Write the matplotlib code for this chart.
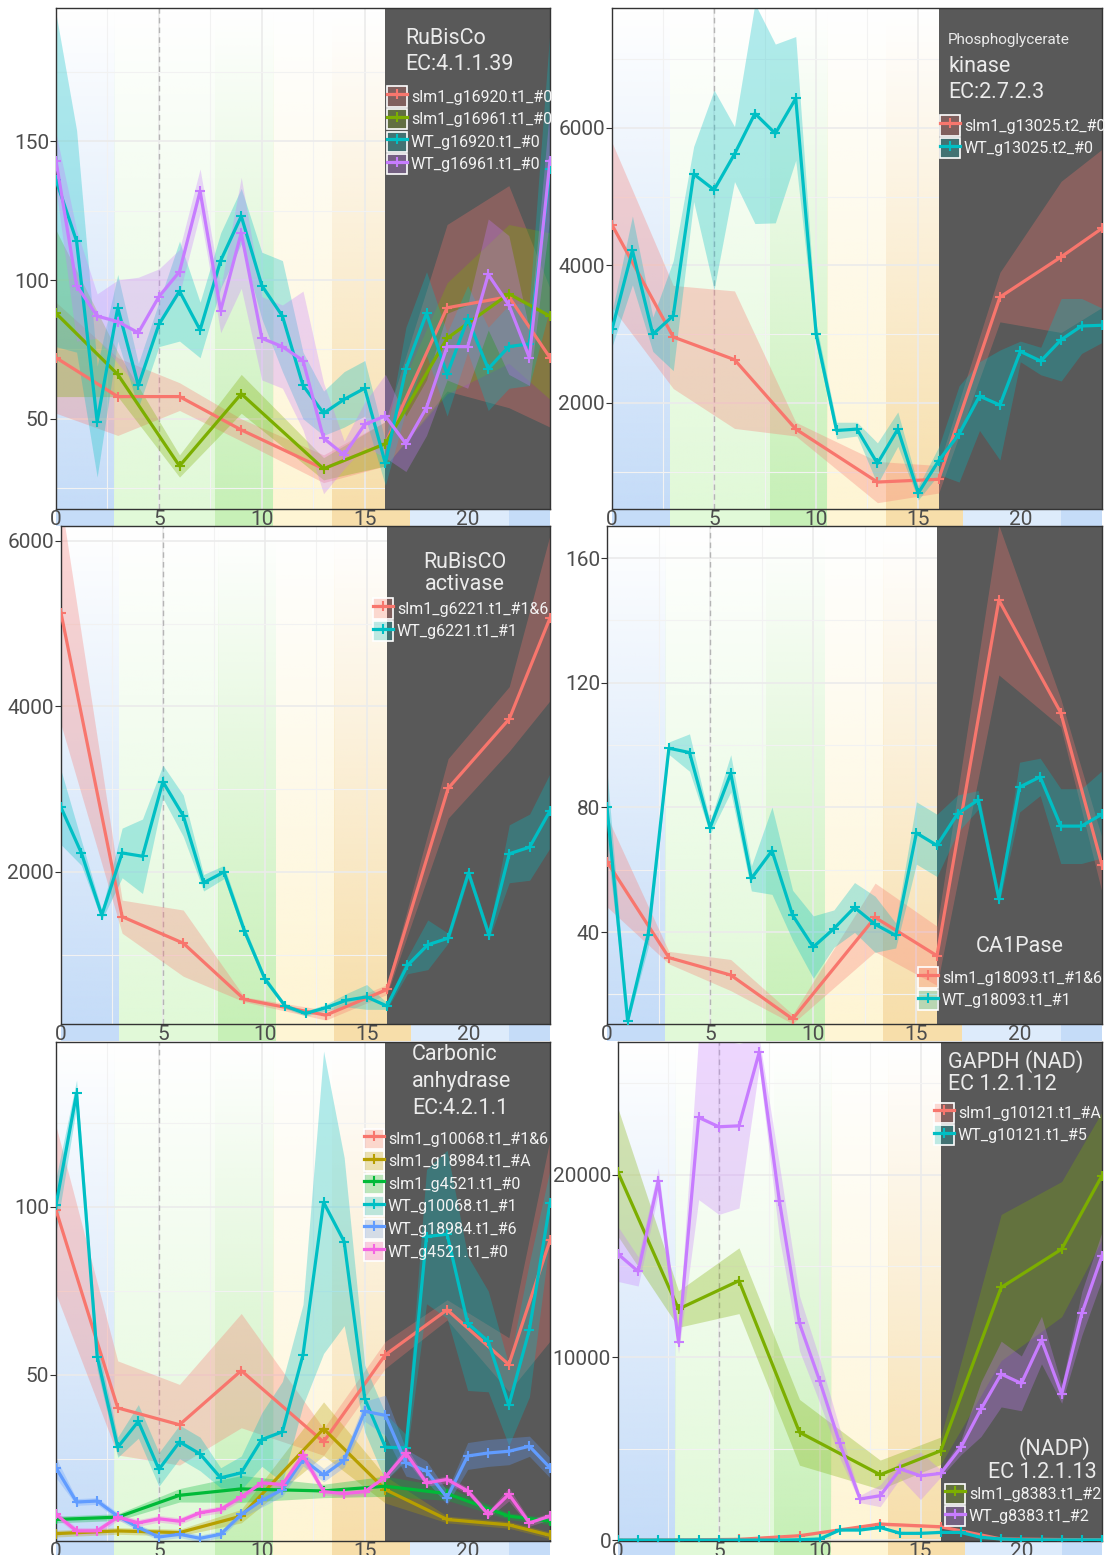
import numpy as np
import matplotlib.pyplot as plt
from matplotlib.patches import Patch
from matplotlib.lines import Line2D
from matplotlib.colors import to_rgb

plt.rcParams['font.family'] = ['Roboto', 'DejaVu Sans']

W, H = 1106, 1555

# sampling times
t_slm = [0, 3, 6, 9, 13, 16, 19, 22, 24]
t_wt = [0, 1, 2, 3, 4, 5, 6, 7, 8, 9, 10, 11, 12, 13, 14, 15, 16, 17, 18, 19, 20, 21, 22, 23, 24]

# ---- panel 1: RuBisCo
p1_slm_g16920 = [72, 58, 58, 46, 32, 41, 90, 94, 72]
p1_slm_g16920_sd = [20, 14, 5, 4, 5, 8, 30, 40, 25]
p1_slm_g16961 = [88, 66, 33, 59, 32, 41, 79, 95, 87]
p1_slm_g16961_sd = [30, 8, 4, 7, 4, 8, 20, 25, 30]
p1_wt_g16920 = [136, 114, 49, 90, 62, 84, 96, 82, 107, 123, 98, 87, 62, 52, 57, 61, 34, 68, 88, 66, 86, 68, 76, 77, 140]
p1_wt_g16920_sd = [60, 40, 20, 12, 8, 8, 18, 10, 10, 10, 12, 20, 12, 8, 10, 10, 8, 15, 15, 15, 12, 15, 15, 15, 50]
p1_wt_g16961 = [143, 98, 87, 85, 81, 94, 103, 132, 89, 117, 79, 76, 71, 43, 37, 48, 51, 41, 54, 76, 76, 102, 91, 72, 143]
p1_wt_g16961_sd = [10, 20, 8, 15, 20, 10, 8, 8, 8, 20, 15, 15, 25, 20, 5, 8, 15, 10, 10, 12, 15, 20, 25, 10, 20]

# ---- panel 2: Phosphoglycerate kinase
p2_slm = [4590, 2960, 2630, 1620, 850, 890, 3540, 4125, 4540]
p2_slm_sd = [1200, 750, 1000, 100, 300, 200, 360, 1100, 1150]
p2_wt = [3070, 4220, 3000, 3270, 5330, 5100, 5620, 6210, 5920, 6430, 3000, 1600, 1620, 1120, 1620, 690, 1160, 1550, 2100, 1970, 2750, 2610, 2920, 3120, 3130]
p2_wt_sd = [250, 500, 250, 800, 400, 1450, 400, 1600, 1300, 900, 150, 120, 100, 300, 250, 100, 200, 700, 500, 800, 150, 200, 600, 400, 250]

# ---- panel 3: RuBisCO activase
p3_slm = [5130, 1460, 1140, 460, 270, 580, 3010, 3850, 5070]
p3_slm_sd = [1350, 200, 400, 30, 60, 60, 360, 390, 1000]
p3_wt = [2780, 2230, 1480, 2230, 2190, 3090, 2680, 1870, 2000, 1290, 710, 380, 290, 360, 450, 490, 380, 870, 1120, 1200, 1990, 1240, 2220, 2300, 2740]
p3_wt_sd = [450, 150, 60, 300, 450, 200, 250, 100, 80, 60, 40, 30, 30, 40, 80, 150, 40, 100, 300, 60, 60, 60, 350, 400, 450]

# ---- panel 4: CA1Pase
p4_slm = [62.6, 31.8, 26.2, 12.1, 44.7, 32.4, 146.5, 110.4, 61.5]
p4_slm_sd = [14.5, 2, 5, 1.5, 11, 9.5, 24, 4.5, 8.7]
p4_wt = [80, 11.5, 39.2, 99, 97.6, 73.5, 90.9, 57.2, 66.1, 45.4, 35.2, 41.1, 47.9, 42.5, 38.9, 71.8, 67.8, 78, 82.4, 50.7, 86.5, 89.8, 74, 74, 77.8]
p4_wt_sd = [12, 1, 4, 2, 6, 2, 6, 4, 14, 8, 10, 6, 8, 9, 4, 10, 10, 6, 3, 2, 8, 6, 12, 12, 14]

# ---- panel 5: Carbonic anhydrase
p5_slm_g10068 = [99, 40.1, 35.1, 51.2, 30, 55.9, 69.3, 53, 90]
p5_slm_g10068_sd = [25, 14, 12, 17, 4, 4, 3, 8, 30]
p5_slm_g18984 = [2.7, 3.5, 3, 7.9, 33.9, 15.8, 6.9, 5.3, 2.2]
p5_slm_g18984_sd = [1, 1, 1, 2, 8, 4, 1, 1, 1]
p5_slm_g4521 = [6.9, 7.6, 14.1, 16, 15.4, 16.8, 14.6, 7.9, 6.4]
p5_slm_g4521_sd = [1, 1, 2, 4, 2, 3, 2, 1, 1]
p5_wt_g10068 = [100.5, 133.7, 55.4, 28.4, 36.1, 21.8, 30, 26.4, 19.3, 20.8, 30.7, 33, 55.9, 101.3, 89.6, 42.9, 28.4, 28.2, 91.1, 91.8, 65.3, 59.9, 40.9, 63.4, 101]
p5_wt_g10068_sd = [8, 4, 4, 3, 5, 5, 5, 5, 3, 5, 8, 15, 15, 45, 25, 10, 10, 4, 20, 25, 20, 15, 12, 20, 10]
p5_wt_g18984 = [22.3, 12.1, 12.4, 7.9, 4.5, 1.7, 2.5, 1.3, 2.5, 8.4, 12.6, 15.8, 24.8, 20.1, 24.5, 39.1, 37.9, 23.8, 21.3, 13.4, 25.8, 26.7, 27.2, 28.7, 22.3]
p5_wt_g18984_sd = [3, 1, 1, 1, 1, 1, 1, 1, 1, 1, 2, 2, 2, 2, 2, 3, 6, 4, 3, 2, 4, 4, 4, 3, 3]
p5_wt_g4521 = [8.4, 3.5, 3.5, 7.6, 5.9, 7.1, 6.4, 8.9, 9.9, 13.6, 17.8, 17.3, 26, 15.2, 14.6, 15.2, 19.5, 26.7, 17.8, 18.8, 15.4, 8.4, 14.4, 5.9, 7.9]
p5_wt_g4521_sd = [1, 1, 1, 1, 1, 1, 1, 1, 1, 1, 1, 1, 2, 1, 1, 1, 1, 2, 1, 1, 1, 1, 2, 1, 1]

# ---- panel 6: GAPDH
p6_slm_g10121 = [0, 10, 40, 240, 880, 730, 60, 30, 20]
p6_slm_g10121_sd = [10, 10, 20, 50, 100, 80, 20, 10, 10]
p6_slm_g8383 = [20130, 12650, 14200, 5900, 3580, 4890, 13830, 15930, 19950]
p6_slm_g8383_sd = [3500, 1000, 1800, 1800, 800, 750, 4000, 3700, 3500]
p6_wt_g10121 = [0, 0, 0, 0, 0, 0, 0, 0, 0, 20, 60, 550, 550, 690, 370, 370, 420, 420, 150, 60, 20, 10, 10, 10, 10]
p6_wt_g10121_sd = [20, 20, 20, 20, 20, 20, 20, 20, 20, 20, 30, 40, 40, 60, 40, 40, 40, 40, 30, 20, 20, 20, 20, 20, 20]
p6_wt_g8383 = [15660, 14710, 19670, 10820, 23140, 22630, 22680, 26700, 18580, 11860, 8720, 5290, 2250, 2430, 3890, 3520, 3650, 5070, 7170, 9090, 8580, 10950, 7990, 12410, 15570]
p6_wt_g8383_sd = [1500, 800, 700, 600, 4500, 4800, 4500, 800, 2000, 1500, 1200, 800, 200, 600, 500, 1300, 200, 400, 1500, 1800, 1500, 1300, 500, 1200, 1300]

# light bands (x start, x end, colour)
bands = [(0, 2.83, '#C5DCF8'), (2.83, 7.72, '#E1F9D8'), (7.72, 10.55, '#C7F0B7'),
         (10.55, 13.4, '#FEF5D4'), (13.4, 17.2, '#F7DEAA'), (17.2, 22.0, '#DDEBFB'),
         (22.0, 24, '#C5DCF8')]
darkStart = 16

RED = '#F8766D'; OLIVE = '#7CAE00'; CYAN = '#00BFC4'; PURPLE = '#C77CFF'
YEL = '#B79F00'; GRN = '#00BA38'; BLUE = '#619CFF'; MAG = '#F564E3'

fig = plt.figure(figsize=(W / 100, H / 100), dpi=100)


def box(left, top, right, bottom):
    return [left / W, 1 - bottom / H, (right - left) / W, (bottom - top) / H]


def figText(px, py, s, size=15.5, ha='left'):
    fig.text(px / W, 1 - py / H, s, fontsize=size, color='#EBEBEB', ha=ha, va='center', zorder=10)


def makePanel(pos, ylim, major, minor):
    left, top, right, bottom = pos
    ax = fig.add_axes(box(left, top, right, bottom), zorder=2)
    strip = fig.add_axes(box(left, bottom, right, bottom + 17), zorder=1)
    for x0, x1, c in bands:
        img = np.zeros((100, 2, 4))
        img[:, :, :3] = to_rgb(c)
        img[:, :, 3] = np.linspace(0, 1, 100)[:, None]
        ax.imshow(img, extent=(x0, x1, ylim[0], ylim[1]), aspect='auto', origin='upper',
                  interpolation='bilinear', zorder=0)
        strip.axvspan(x0, x1, color=c, lw=0)
    strip.set_xlim(0, 24)
    strip.axis('off')
    ax.axvspan(darkStart, 24, color='#595959', lw=0, zorder=0.8)
    ax.axvline(5, color='#B5B5B5', lw=1, ls=(0, (4, 3)), zorder=0.7)
    ax.set_xlim(0, 24)
    ax.set_ylim(*ylim)
    ax.set_xticks([0, 5, 10, 15, 20])
    ax.set_xticks([2.5, 7.5, 12.5, 17.5, 22.5], minor=True)
    ax.set_yticks(major)
    ax.set_yticks(minor, minor=True)
    ax.set_axisbelow(True)
    ax.grid(which='major', color='#EBEBEB', lw=1.2)
    ax.grid(which='minor', color='#F2F2F2', lw=0.8)
    ax.tick_params(axis='x', which='both', length=0, pad=1, labelsize=15, labelcolor='#4D4D4D')
    ax.tick_params(axis='y', which='major', length=4, color='#333333', pad=1, labelsize=15, labelcolor='#4D4D4D')
    ax.tick_params(axis='y', which='minor', length=0)
    for sp in ax.spines.values():
        sp.set_color('#333333')
        sp.set_linewidth(1)
    return ax


def drawSeries(ax, t, y, sd, color):
    y = np.array(y, dtype=float)
    sd = np.array(sd, dtype=float)
    ax.fill_between(t, y - sd, y + sd, color=color, alpha=0.3, lw=0, zorder=2)
    ax.plot(t, y, color=color, lw=2.3, marker='+', ms=7, mew=1.5, zorder=3)


def addLegend(ax, items, px, py):
    handles = []
    labels = []
    for lab, c in items:
        r, g, b = to_rgb(c)
        patch = Patch(facecolor=(r, g, b, 0.25), edgecolor='white', lw=1.2)
        line = Line2D([], [], color=c, lw=2.3, marker='+', ms=7, mew=1.5)
        handles.append((patch, line))
        labels.append(lab)
    leg = ax.legend(handles, labels, loc='upper left', bbox_to_anchor=(px / W, 1 - py / H),
                    bbox_transform=fig.transFigure, frameon=False, borderpad=0, borderaxespad=0,
                    handlelength=1.25, handleheight=1.55, handletextpad=0.25, labelspacing=0.16,
                    fontsize=11.5, labelcolor='#F2F2F2')
    leg.set_zorder(10)
    return leg


# panel 1
ax1 = makePanel((56, 8, 550, 509), (17.5, 198), [50, 100, 150], [25, 75, 125, 175])
drawSeries(ax1, t_slm, p1_slm_g16920, p1_slm_g16920_sd, RED)
drawSeries(ax1, t_slm, p1_slm_g16961, p1_slm_g16961_sd, OLIVE)
drawSeries(ax1, t_wt, p1_wt_g16920, p1_wt_g16920_sd, CYAN)
drawSeries(ax1, t_wt, p1_wt_g16961, p1_wt_g16961_sd, PURPLE)
figText(405, 38, 'RuBisCo')
figText(405, 64, 'EC:4.1.1.39')
addLegend(ax1, [('slm1_g16920.t1_#0', RED), ('slm1_g16961.t1_#0', OLIVE),
                ('WT_g16920.t1_#0', CYAN), ('WT_g16961.t1_#0', PURPLE)], 387, 86.5)

# panel 2
ax2 = makePanel((612, 8, 1102, 509), (458, 7745), [2000, 4000, 6000], [1000, 3000, 5000, 7000])
drawSeries(ax2, t_slm, p2_slm, p2_slm_sd, RED)
drawSeries(ax2, t_wt, p2_wt, p2_wt_sd, CYAN)
figText(948, 40, 'Phosphoglycerate', size=11)
figText(948, 66, 'kinase')
figText(948, 93, 'EC:2.7.2.3')
addLegend(ax2, [('slm1_g13025.t2_#0', RED), ('WT_g13025.t2_#0', CYAN)], 940, 115.5)

# panel 3
ax3 = makePanel((61, 526, 550, 1024), (163, 6181), [2000, 4000, 6000], [1000, 3000, 5000])
drawSeries(ax3, t_slm, p3_slm, p3_slm_sd, RED)
drawSeries(ax3, t_wt, p3_wt, p3_wt_sd, CYAN)
figText(465, 563, 'RuBisCO', ha='center')
figText(465, 585, 'activase', ha='center')
addLegend(ax3, [('slm1_g6221.t1_#1&6', RED), ('WT_g6221.t1_#1', CYAN)], 373, 598.5)

# panel 4
ax4 = makePanel((607, 526, 1102, 1024), (10.5, 170.3), [40, 80, 120, 160], [20, 60, 100, 140])
drawSeries(ax4, t_slm, p4_slm, p4_slm_sd, RED)
drawSeries(ax4, t_wt, p4_wt, p4_wt_sd, CYAN)
figText(1020, 946, 'CA1Pase', ha='center')
addLegend(ax4, [('slm1_g18093.t1_#1&6', RED), ('WT_g18093.t1_#1', CYAN)], 918, 967.5)

# panel 5
ax5 = makePanel((56, 1042, 550, 1541), (0.5, 149), [50, 100], [25, 75, 125])
drawSeries(ax5, t_slm, p5_slm_g10068, p5_slm_g10068_sd, RED)
drawSeries(ax5, t_slm, p5_slm_g18984, p5_slm_g18984_sd, YEL)
drawSeries(ax5, t_slm, p5_slm_g4521, p5_slm_g4521_sd, GRN)
drawSeries(ax5, t_wt, p5_wt_g10068, p5_wt_g10068_sd, CYAN)
drawSeries(ax5, t_wt, p5_wt_g18984, p5_wt_g18984_sd, BLUE)
drawSeries(ax5, t_wt, p5_wt_g4521, p5_wt_g4521_sd, MAG)
figText(412, 1055, 'Carbonic')
figText(412, 1082, 'anhydrase')
figText(412, 1109, 'EC:4.2.1.1')
addLegend(ax5, [('slm1_g10068.t1_#1&6', RED), ('slm1_g18984.t1_#A', YEL), ('slm1_g4521.t1_#0', GRN),
                ('WT_g10068.t1_#1', CYAN), ('WT_g18984.t1_#6', BLUE), ('WT_g4521.t1_#0', MAG)], 364, 1128.5)

# panel 6
ax6 = makePanel((618, 1042, 1102, 1541), (-50, 27270), [0, 10000, 20000], [5000, 15000, 25000])
drawSeries(ax6, t_slm, p6_slm_g10121, p6_slm_g10121_sd, RED)
drawSeries(ax6, t_slm, p6_slm_g8383, p6_slm_g8383_sd, OLIVE)
drawSeries(ax6, t_wt, p6_wt_g10121, p6_wt_g10121_sd, CYAN)
drawSeries(ax6, t_wt, p6_wt_g8383, p6_wt_g8383_sd, PURPLE)
figText(948, 1062, 'GAPDH (NAD)')
figText(948, 1085, 'EC 1.2.1.12')
figText(1090, 1449, '(NADP)', ha='right')
figText(1097, 1472, 'EC 1.2.1.13', ha='right')
leg6 = addLegend(ax6, [('slm1_g10121.t1_#A', RED), ('WT_g10121.t1_#5', CYAN)], 934, 1102.5)
ax6.add_artist(leg6)
addLegend(ax6, [('slm1_g8383.t1_#2', OLIVE), ('WT_g8383.t1_#2', PURPLE)], 945, 1483.5)

fig.savefig('out.png', dpi=100)
